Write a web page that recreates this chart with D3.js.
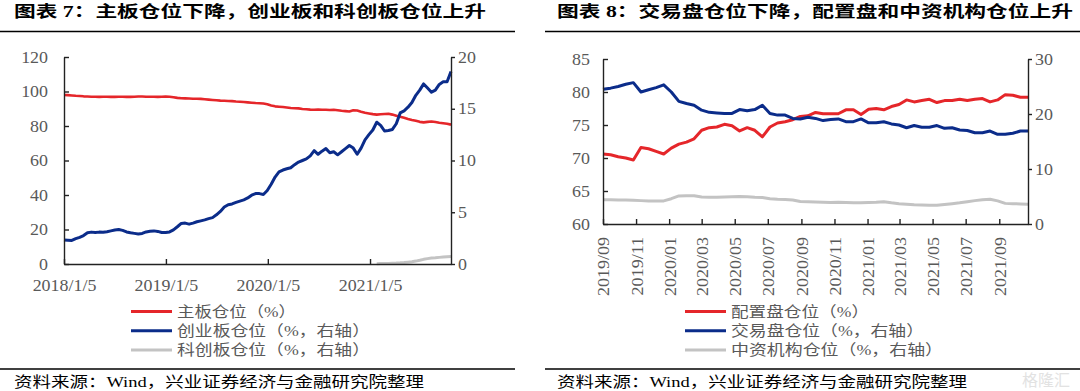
<!DOCTYPE html>
<html>
<head>
<meta charset="utf-8">
<script src="https://cdn.jsdelivr.net/npm/d3@7"></script>
<style>
  body { margin: 0; background: #fff; }
  svg { display: block; }
</style>
</head>
<body>
<script>
// ---- chart 7 data: biweekly positions from 2018/1/5 ----
var boardStart = "2018-01-05";
var mainBoard = [
  98.0, 97.9, 97.7, 97.5, 97.4, 97.2, 97.1, 97.0, 97.0, 96.9,
  97.0, 97.0, 96.9, 96.9, 97.0, 97.0, 96.9, 96.9, 97.0, 97.1,
  97.1, 97.0, 97.0, 97.0, 96.9, 97.0, 97.1, 97.0, 96.7, 96.3,
  96.1, 96.0, 95.9, 95.8, 95.8, 95.7, 95.5, 95.3, 95.1, 94.9,
  94.7, 94.6, 94.5, 94.4, 94.2, 94.1, 93.9, 93.7, 93.5, 93.3,
  93.2, 93.0, 92.6, 91.9, 91.4, 91.2, 91.0, 90.7, 90.4, 90.3,
  90.2, 89.9, 89.7, 89.5, 89.4, 89.5, 89.4, 89.4, 89.3, 89.4,
  89.1, 88.8, 88.6, 88.4, 89.1, 89.0, 88.3, 87.7, 87.3, 86.9,
  86.6, 86.8, 87.0, 87.1, 86.6, 86.0, 85.4, 84.8, 84.1, 83.5,
  83.0, 82.4, 82.1, 82.4, 82.6, 82.3, 81.9, 81.6, 81.3, 80.8
];
var gemBoard = [
  2.32, 2.30, 2.28, 2.45, 2.58, 2.75, 3.02, 3.08, 3.04, 3.08,
  3.06, 3.12, 3.20, 3.28, 3.33, 3.25, 3.10, 3.02, 2.96, 2.90,
  2.95, 3.10, 3.17, 3.20, 3.15, 3.05, 3.04, 3.10, 3.30, 3.60,
  3.92, 3.95, 3.85, 3.95, 4.08, 4.17, 4.26, 4.38, 4.48, 4.75,
  5.08, 5.50, 5.72, 5.80, 5.95, 6.08, 6.20, 6.38, 6.65, 6.80,
  6.80, 6.72, 7.10, 7.70, 8.40, 8.90, 9.08, 9.20, 9.30, 9.60,
  9.85, 10.00, 10.15, 10.45, 10.95, 10.60, 10.90, 11.15, 10.75, 10.85,
  10.55, 10.85, 11.15, 11.45, 11.20, 10.60, 11.20, 12.00, 12.50, 12.95,
  13.70, 13.40, 12.85, 12.90, 13.00, 13.55, 14.60, 14.80, 15.15, 15.60,
  16.30, 16.80, 17.40, 17.00, 16.60, 16.80, 17.35, 17.60, 17.60, 18.60
];
var starFrom = 80; // STAR series begins at this week index
var starBoard = [
  0.02, 0.04, 0.05, 0.06, 0.08, 0.09, 0.11, 0.14, 0.18, 0.22,
  0.28, 0.36, 0.45, 0.52, 0.57, 0.60, 0.64, 0.67, 0.70, 0.72
];
var boardTicks = ["2018/1/5", "2019/1/5", "2020/1/5", "2021/1/5"];
var boardLeftTicks = [0, 20, 40, 60, 80, 100, 120];
var boardRightTicks = [0, 5, 10, 15, 20];

// ---- chart 8 data: biweekly positions from 2019/09 ----
var bookStart = "2019-09-01";
var allocBook = [
  70.6, 70.5, 70.2, 70.0, 69.7, 71.6, 71.4, 71.0, 70.6, 71.5,
  72.1, 72.4, 72.9, 74.2, 74.6, 74.7, 75.1, 74.9, 74.1, 74.6,
  74.2, 73.2, 74.7, 75.3, 75.5, 75.8, 76.3, 76.4, 76.9, 76.7,
  76.7, 76.7, 77.3, 77.3, 76.6, 77.4, 77.5, 77.3, 77.8, 78.1,
  78.8, 78.5, 78.7, 78.9, 78.4, 78.7, 78.7, 78.9, 78.7, 78.9,
  79.0, 78.5, 78.8, 79.6, 79.5, 79.2, 79.2
];
var tradeBook = [
  24.5, 24.7, 25.0, 25.4, 25.7, 24.0, 24.4, 24.8, 25.3, 24.0,
  22.3, 21.9, 21.6, 20.7, 20.3, 20.2, 20.1, 20.1, 20.8, 20.6,
  20.8, 21.6, 20.1, 19.8, 19.8, 19.2, 19.1, 19.4, 19.2, 18.8,
  19.0, 19.1, 18.6, 18.6, 19.1, 18.4, 18.4, 18.6, 18.2, 18.0,
  17.5, 17.9, 17.6, 17.6, 17.9, 17.4, 17.5, 17.1, 17.0, 16.6,
  16.6, 16.9, 16.3, 16.3, 16.5, 16.9, 16.9
];
var chinaInst = [
  4.40, 4.40, 4.35, 4.35, 4.30, 4.25, 4.20, 4.20, 4.20, 4.60,
  5.10, 5.15, 5.15, 4.90, 4.85, 4.85, 4.90, 4.95, 5.00, 4.95,
  4.85, 4.80, 4.60, 4.50, 4.45, 4.35, 4.10, 4.05, 4.00, 3.95,
  3.90, 3.95, 3.90, 3.85, 3.85, 3.90, 3.95, 4.05, 3.85, 3.70,
  3.60, 3.50, 3.45, 3.40, 3.40, 3.55, 3.70, 3.85, 4.05, 4.25,
  4.40, 4.50, 4.20, 3.75, 3.70, 3.65, 3.60
];
var bookTicks = ["2019/09", "2019/11", "2020/01", "2020/03", "2020/05", "2020/07",
  "2020/09", "2020/11", "2021/01", "2021/03", "2021/05", "2021/07", "2021/09"];
var bookLeftTicks = [60, 65, 70, 75, 80, 85];
var bookRightTicks = [0, 10, 20, 30];

var titles = ["图表 7：主板仓位下降，创业板和科创板仓位上升",
              "图表 8：交易盘仓位下降，配置盘和中资机构仓位上升"];
var legend7 = ["主板仓位（%）", "创业板仓位（%，右轴）", "科创板仓位（%，右轴）"];
var legend8 = ["配置盘仓位（%）", "交易盘仓位（%，右轴）", "中资机构仓位（%，右轴）"];
var source = "资料来源：Wind，兴业证券经济与金融研究院整理";

var RED = "#e5262a", BLUE = "#0b2c8a", GREY = "#c3c3c3";
var FONT = "'Liberation Serif', 'Noto Sans CJK SC', serif";

var svg = d3.select("body").append("svg")
    .attr("width", 1080)
    .attr("height", 391)
    .style("font-family", FONT);

// weekly dates (every two weeks)
function biweekly(start, n) {
  var d0 = d3.timeParse("%Y-%m-%d")(start);
  return d3.range(n).map(function(i) { return d3.timeDay.offset(d0, 14 * i); });
}
var boardDates = biweekly(boardStart, mainBoard.length);
var bookDates = biweekly(bookStart, allocBook.length);

// widen text a little, the source picture is stretched
function stretch(sel, k) {
  sel.each(function() {
    var w = this.getComputedTextLength();
    d3.select(this).attr("textLength", w * k).attr("lengthAdjust", "spacingAndGlyphs");
  });
}

function styleAxis(g, k) {
  g.attr("font-family", FONT).attr("font-size", 16);
  g.select(".domain").attr("stroke", "#222").attr("stroke-width", 1.4);
  g.selectAll(".tick line").attr("stroke", "#222").attr("stroke-width", 1.4);
  g.selectAll(".tick text").attr("fill", "#595959");
  stretch(g.selectAll(".tick text"), k);
}

function drawLine(dates, values, x, y, color, w) {
  var line = d3.line()
      .x(function(d) { return x(d[0]); })
      .y(function(d) { return y(d[1]); });
  svg.append("path")
      .datum(values.map(function(v, i) { return [dates[i], v]; }))
      .attr("fill", "none")
      .attr("stroke", color)
      .attr("stroke-width", w)
      .attr("stroke-linejoin", "round")
      .attr("d", line);
}

// ================= chart 7 =================
var x7 = d3.scaleTime().domain([boardDates[0], boardDates[boardDates.length - 1]]).range([64, 451]);
var y7L = d3.scaleLinear().domain([0, 120]).range([264, 57]);
var y7R = d3.scaleLinear().domain([0, 20]).range([264, 57]);

drawLine(boardDates, mainBoard, x7, y7L, RED, 2.6);
drawLine(boardDates, gemBoard, x7, y7R, BLUE, 3);
drawLine(boardDates.slice(starFrom), starBoard, x7, y7R, GREY, 3);

var parse7 = d3.timeParse("%Y/%m/%d");
svg.append("g").attr("transform", "translate(0,264)")
    .call(d3.axisBottom(x7).tickValues(boardTicks.map(parse7))
      .tickFormat(function(d, i) { return boardTicks[i]; })
      .tickSize(-5).tickSizeOuter(0).tickPadding(16))
    .call(styleAxis, 1.12);
svg.append("g").attr("transform", "translate(64,0)")
    .call(d3.axisLeft(y7L).tickValues(boardLeftTicks).tickSize(-5).tickSizeOuter(0).tickPadding(16))
    .call(styleAxis, 1.12);
svg.append("g").attr("transform", "translate(451,0)")
    .call(d3.axisRight(y7R).tickValues(boardRightTicks).tickSize(4).tickSizeOuter(0).tickPadding(3))
    .call(styleAxis, 1.12);

// ================= chart 8 =================
var x8 = d3.scaleTime().domain([bookDates[0], bookDates[bookDates.length - 1]]).range([603, 1028]);
var y8L = d3.scaleLinear().domain([60, 85]).range([224, 59]);
var y8R = d3.scaleLinear().domain([0, 30]).range([224, 59]);

drawLine(bookDates, chinaInst, x8, y8R, GREY, 3);
drawLine(bookDates, allocBook, x8, y8L, RED, 3);
drawLine(bookDates, tradeBook, x8, y8R, BLUE, 3);

var parse8 = d3.timeParse("%Y/%m");
var ax8 = svg.append("g").attr("transform", "translate(0,224)")
    .call(d3.axisBottom(x8).tickValues(bookTicks.map(parse8))
      .tickFormat(function(d, i) { return bookTicks[i]; })
      .tickSize(-5).tickSizeOuter(0))
    .call(styleAxis, 1.0);
ax8.selectAll(".tick text")
    .attr("font-size", 17)
    .attr("transform", "rotate(-90)")
    .attr("text-anchor", "end")
    .attr("x", -13).attr("y", 0).attr("dy", "0.35em")
    .attr("textLength", null);
stretch(ax8.selectAll(".tick text"), 1.06);

svg.append("g").attr("transform", "translate(603,0)")
    .call(d3.axisLeft(y8L).tickValues(bookLeftTicks).tickSize(-5).tickSizeOuter(0).tickPadding(13))
    .call(styleAxis, 1.12);
svg.append("g").attr("transform", "translate(1028,0)")
    .call(d3.axisRight(y8R).tickValues(bookRightTicks).tickSize(4).tickSizeOuter(0).tickPadding(3))
    .call(styleAxis, 1.12);

// ================= titles, rules, legends, source =================
var panels = [
  {x0: 0, x1: 515, tx: 14, tw: 472, sw: 410, legX: 131, legW: [119, 193, 193], legend: legend7},
  {x0: 545, x1: 1080, tx: 557, tw: 516, sw: 410, legX: 685, legW: [138, 193, 212], legend: legend8}
];
var colors = [RED, BLUE, GREY];
var legY = [311.5, 330.8, 350];

panels.forEach(function(p, k) {
  svg.append("text")
      .attr("x", p.tx).attr("y", 17)
      .attr("font-size", 16).attr("font-weight", "bold").attr("fill", "#000")
      .attr("textLength", p.tw).attr("lengthAdjust", "spacingAndGlyphs")
      .text(titles[k]);
  svg.append("line")
      .attr("x1", p.x0).attr("x2", p.x1).attr("y1", 31.5).attr("y2", 31.5)
      .attr("stroke", "#000").attr("stroke-width", 1.5);
  svg.append("line")
      .attr("x1", p.x0).attr("x2", p.x1).attr("y1", 369).attr("y2", 369)
      .attr("stroke", "#000").attr("stroke-width", 1.5);
  svg.append("text")
      .attr("x", p.tx).attr("y", 387)
      .attr("font-size", 15).attr("fill", "#000")
      .attr("textLength", p.sw).attr("lengthAdjust", "spacingAndGlyphs")
      .text(source);

  var leg = svg.append("g");
  p.legend.forEach(function(name, i) {
    leg.append("line")
        .attr("x1", p.legX).attr("x2", p.legX + 41)
        .attr("y1", legY[i]).attr("y2", legY[i])
        .attr("stroke", colors[i]).attr("stroke-width", 3);
    leg.append("text")
        .attr("x", p.legX + 46).attr("y", legY[i]).attr("dy", "0.36em")
        .attr("font-size", 15).attr("fill", "#595959")
        .attr("textLength", p.legW[i]).attr("lengthAdjust", "spacingAndGlyphs")
        .text(name);
  });
});

// faint watermark in the corner
svg.append("text")
    .attr("x", 1022).attr("y", 386)
    .attr("font-size", 16).attr("fill", "#e2e2e2")
    .style("font-family", "'Noto Sans CJK SC', sans-serif")
    .text("格隆汇");
</script>
</body>
</html>
